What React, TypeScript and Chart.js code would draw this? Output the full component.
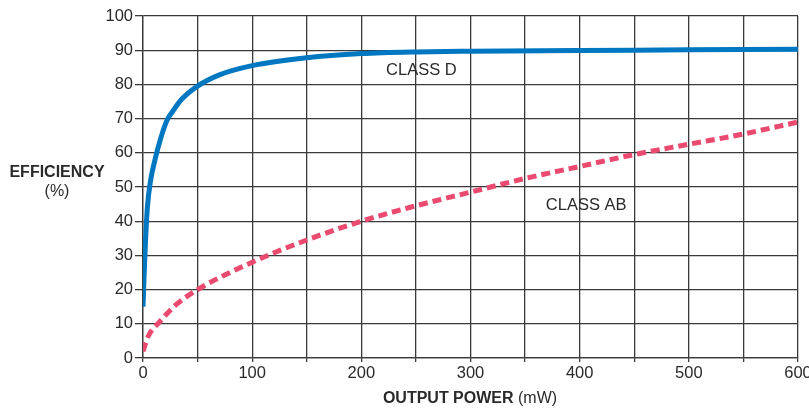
import React, { useEffect, useRef } from "react";
import { Chart, registerables } from "chart.js";

Chart.register(...registerables);

const classDPower = [0, 1, 2, 4, 7, 11, 16, 22, 27, 35, 50, 70, 100, 150, 200, 250, 300, 400, 500, 600];
const classDEff = [15, 24, 32, 44, 52, 58, 64, 69.5, 72, 75.5, 79.5, 82.8, 85.5, 87.8, 89, 89.5, 89.7, 89.9, 90.1, 90.3];

const classABPower = [0, 5, 15, 30, 50, 100, 150, 200, 250, 300, 350, 400, 450, 500, 550, 600];
const classABEff = [2, 6.5, 10.5, 15.5, 20, 28, 34.5, 40, 44.5, 48.5, 52.5, 56, 59.5, 62.5, 65.5, 69];

const yTicks = [0, 10, 20, 30, 40, 50, 60, 70, 80, 90, 100];
const xTickLabels = [0, 100, 200, 300, 400, 500, 600];

const seriesLabels = [
  { text: "CLASS D", x: 255, y: 84 },
  { text: "CLASS AB", x: 406, y: 44.6 },
];

const FONT = "'Liberation Sans', Arial, sans-serif";
const TEXT = "#2a2a2a";

const textPlugin = {
  id: "customText",
  afterDraw(chart: any) {
    const { ctx, scales } = chart;
    ctx.save();
    ctx.fillStyle = TEXT;
    ctx.textBaseline = "middle";
    ctx.textAlign = "center";
    ctx.font = `16.5px ${FONT}`;
    for (const l of seriesLabels) {
      ctx.fillText(l.text, scales.x.getPixelForValue(l.x), scales.y.getPixelForValue(l.y));
    }
    // y axis title
    ctx.font = `bold 16px ${FONT}`;
    ctx.fillText("EFFICIENCY", 57, 173);
    ctx.font = `16px ${FONT}`;
    ctx.fillText("(%)", 57, 192);
    // x axis title
    const boldPart = "OUTPUT POWER";
    const normPart = " (mW)";
    ctx.font = `bold 16px ${FONT}`;
    const w1 = ctx.measureText(boldPart).width;
    ctx.font = `16px ${FONT}`;
    const w2 = ctx.measureText(normPart).width;
    const cx = 470;
    const startX = cx - (w1 + w2) / 2;
    ctx.textAlign = "left";
    ctx.font = `bold 16px ${FONT}`;
    ctx.fillText(boldPart, startX, 399);
    ctx.font = `16px ${FONT}`;
    ctx.fillText(normPart, startX + w1, 399);
    ctx.restore();
  },
};

export default function App() {
  const ref = useRef<HTMLCanvasElement>(null);
  useEffect(() => {
    document.body.style.margin = "0";
    const chart = new Chart(ref.current!, {
      type: "line",
      data: {
        datasets: [
          {
            label: "CLASS D",
            data: classDPower.map((x, i) => ({ x, y: classDEff[i] })),
            borderColor: "#0077c1",
            borderWidth: 5,
            pointRadius: 0,
            cubicInterpolationMode: "monotone",
            fill: false,
          },
          {
            label: "CLASS AB",
            data: classABPower.map((x, i) => ({ x, y: classABEff[i] })),
            borderColor: "#ea4a6f",
            borderWidth: 5,
            borderDash: [9, 5],
            pointRadius: 0,
            cubicInterpolationMode: "monotone",
            fill: false,
          },
        ],
      },
      options: {
        animation: false,
        responsive: false,
        layout: { padding: { top: 16, right: 11, left: 0, bottom: 0 }, autoPadding: false },
        plugins: { legend: { display: false }, tooltip: { enabled: false } },
        scales: {
          x: {
            type: "linear",
            min: 0,
            max: 600,
            afterFit: (s: any) => {
              s.height = 53;
              s.paddingLeft = 0;
              s.paddingRight = 0;
            },
            ticks: {
              stepSize: 50,
              autoSkip: false,
              maxRotation: 0,
              padding: 2,
              color: TEXT,
              font: { family: FONT, size: 16.5 },
              callback: (v: any) => (xTickLabels.includes(v) ? String(v) : ""),
            },
            grid: { color: "#3a3a3a", lineWidth: 1.3, tickLength: 4 },
            border: { color: "#3a3a3a", width: 1.3 },
          },
          y: {
            type: "linear",
            min: 0,
            max: 100,
            afterFit: (s: any) => {
              s.width = 143;
              s.paddingTop = 0;
              s.paddingBottom = 0;
            },
            afterBuildTicks: (s: any) => { s.ticks = yTicks.map((v) => ({ value: v })); },
            ticks: {
              padding: 2,
              color: TEXT,
              font: { family: FONT, size: 16.5 },
            },
            grid: { color: "#3a3a3a", lineWidth: 1.3, tickLength: 8 },
            border: { color: "#3a3a3a", width: 1.3 },
          },
        },
      },
      plugins: [textPlugin],
    } as any);
    return () => chart.destroy();
  }, []);
  return (
    <div style={{ position: "absolute", left: 0, top: 0, width: 809, height: 411 }}>
      <canvas ref={ref} width={809} height={411} style={{ width: 809, height: 411 }} />
    </div>
  );
}
